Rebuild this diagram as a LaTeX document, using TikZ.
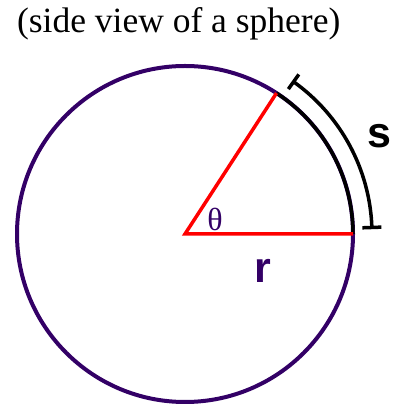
\documentclass[tikz,border=0pt]{standalone}
\usepackage{fontspec}
\setmainfont{Liberation Serif}
\newfontfamily\lsans{Liberation Sans}
\usetikzlibrary{calc}
\definecolor{indigo}{HTML}{330066}
\begin{document}
\begin{tikzpicture}[x=1pt,y=1pt,
  circ/.style={draw=indigo,line width=4pt},
  redline/.style={draw=red,line width=3.5pt},
  arcline/.style={draw=black,line width=3.5pt},
  lbl/.style={inner sep=0pt,outer sep=0pt}]
\useasboundingbox (0,0) rectangle (403,417);
\coordinate (c) at (185,183);
\coordinate (p0) at ($(c)+(0:168)$);
\coordinate (p1) at ($(c)+(57:168)$);
\draw[circ] (c) circle[radius=168];
\draw[arcline] (p0) arc[start angle=0,end angle=57,radius=168];
\draw[redline] (p0) -- (c) -- (p1);
\coordinate (q0) at ($(c)+(2:187)$);
\coordinate (q1) at ($(c)+(54.5:187)$);
\draw[arcline] (q0) arc[start angle=2,end angle=54.5,radius=187];
\draw[arcline] ($(c)+(2:177.5)$) -- ($(c)+(2:196.5)$);
\draw[arcline] ($(c)+(54.5:178)$) -- ($(c)+(54.5:196)$);
\node[lbl,anchor=base west,font=\fontsize{35.5}{40}\selectfont] (title) at (17,384) {(side view of a sphere)};
\node[lbl,font=\lsans\bfseries\fontsize{43}{46}\selectfont] (s) at (379,281) {s};
\node[lbl,text=indigo,font=\lsans\bfseries\fontsize{43}{46}\selectfont] (r) at (262.5,146) {r};
\node[lbl,text=indigo,font=\fontsize{32}{36}\selectfont] (th) at (215,198) {θ};
\end{tikzpicture}
\end{document}
